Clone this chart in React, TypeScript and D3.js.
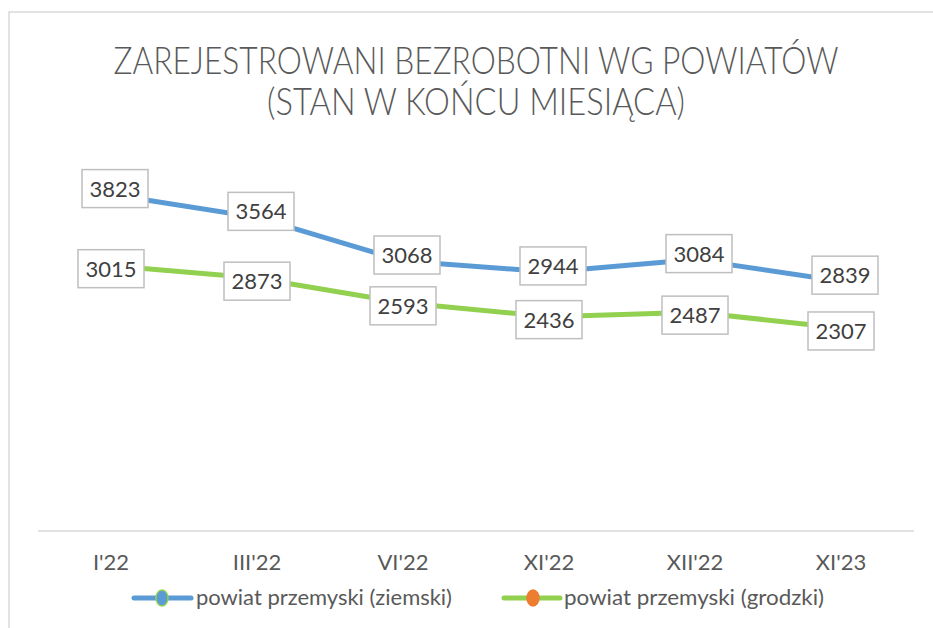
import React from 'react';
import * as d3 from 'd3';

// chart data
const categories = ["I'22", "III'22", "VI'22", "XI'22", "XII'22", "XI'23"];
const ziemski = [3823, 3564, 3068, 2944, 3084, 2839];
const grodzki = [3015, 2873, 2593, 2436, 2487, 2307];
const seriesNames = ['powiat przemyski (ziemski)', 'powiat przemyski (grodzki)'];
const titleLines = ['ZAREJESTROWANI BEZROBOTNI WG POWIATÓW', '(STAN W KOŃCU MIESIĄCA)'];
const yDomain = [0, 4500];

const W = 933;
const H = 628;
const FONT = 'Lato, "Open Sans", "Liberation Sans", sans-serif';
const TEXT = '#595959';
const BLUE = '#5B9BD5';
const GREEN = '#92D050';
const ORANGE = '#ED7D31';

export default function App() {
  const x = d3.scaleBand<string>().domain(categories).range([38, 914]);
  const y = d3.scaleLinear().domain(yDomain).range([531, 135]);
  const cx = (i: number) => (x(categories[i]) ?? 0) + x.bandwidth() / 2;

  const line = d3
    .line<number>()
    .x((_, i) => cx(i))
    .y((d) => y(d));

  const series = [
    { name: seriesNames[0], values: ziemski, color: BLUE, dx: 4, dy: -6 },
    { name: seriesNames[1], values: grodzki, color: GREEN, dx: 0, dy: 3 },
  ];

  const boxW = 66;
  const boxH = 38;

  return (
    <div style={{ position: 'absolute', left: 0, top: 0 }}>
      <svg width={W} height={H} style={{ display: 'block', background: '#fff' }}>
        {/* chart frame, only top and left edges are in view */}
        <path d={`M9,${H + 5}V12H${W + 5}`} fill="none" stroke="#D9D9D9" strokeWidth={1.5} />

        {/* title */}
        {titleLines.map((t, i) => (
          <text
            key={t}
            x={476}
            y={i === 0 ? 74 : 115}
            textAnchor="middle"
            fontFamily={FONT}
            fontWeight={300}
            fontSize={38}
            fill={TEXT}
            textLength={i === 0 ? 725 : 418}
            lengthAdjust="spacingAndGlyphs"
          >
            {t}
          </text>
        ))}

        {/* category axis */}
        <line x1={38} x2={914} y1={y(0)} y2={y(0)} stroke="#D9D9D9" strokeWidth={1.5} />
        {categories.map((c, i) => (
          <text
            key={c}
            x={cx(i)}
            y={570}
            textAnchor="middle"
            fontFamily={FONT}
            fontSize={22}
            fill={TEXT}
          >
            {c}
          </text>
        ))}

        {/* lines */}
        {series.map((s) => (
          <path
            key={s.name}
            d={line(s.values) ?? ''}
            fill="none"
            stroke={s.color}
            strokeWidth={5}
            strokeLinejoin="round"
            strokeLinecap="round"
          />
        ))}

        {/* data labels */}
        {series.map((s) =>
          s.values.map((v, i) => {
            const lx = cx(i) + s.dx;
            const ly = y(v) + s.dy;
            return (
              <g key={s.name + i}>
                <rect
                  x={lx - boxW / 2}
                  y={ly - boxH / 2}
                  width={boxW}
                  height={boxH}
                  fill="#fff"
                  stroke="#BFBFBF"
                  strokeWidth={1.5}
                />
                <text
                  x={lx}
                  y={ly + 8}
                  textAnchor="middle"
                  fontFamily={FONT}
                  fontSize={22}
                  fill="#404040"
                >
                  {v}
                </text>
              </g>
            );
          })
        )}

        {/* legend */}
        <g>
          <line x1={134} x2={191} y1={598} y2={598} stroke={BLUE} strokeWidth={5} strokeLinecap="round" />
          <ellipse cx={162} cy={598} rx={6} ry={8} fill={BLUE} stroke={GREEN} strokeWidth={1.5} />
          <text x={196} y={605} fontFamily={FONT} fontSize={21} fill={TEXT} textLength={256} lengthAdjust="spacingAndGlyphs">
            {seriesNames[0]}
          </text>
          <line x1={504} x2={560} y1={598} y2={598} stroke={GREEN} strokeWidth={5} strokeLinecap="round" />
          <ellipse cx={533} cy={598} rx={6} ry={8} fill={ORANGE} stroke={ORANGE} strokeWidth={1.5} />
          <text x={564} y={605} fontFamily={FONT} fontSize={21} fill={TEXT} textLength={260} lengthAdjust="spacingAndGlyphs">
            {seriesNames[1]}
          </text>
        </g>
      </svg>
    </div>
  );
}
